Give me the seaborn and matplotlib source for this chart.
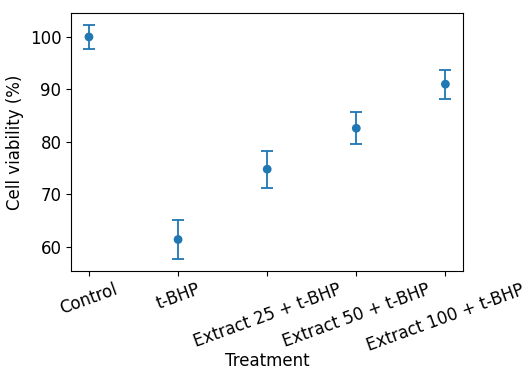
import matplotlib
matplotlib.use("Agg")
import matplotlib.pyplot as plt
import pandas as pd
import seaborn as sns

TREATMENTS = ["Control", "t-BHP", "Extract 25 + t-BHP", "Extract 50 + t-BHP", "Extract 100 + t-BHP"]
VIABILITY = [100.0, 61.4, 74.8, 82.6, 91.0]
VIABILITY_SD = [2.3, 3.7, 3.5, 3.05, 2.75]

df = pd.DataFrame({"treatment": TREATMENTS, "viability": VIABILITY, "sd": VIABILITY_SD})
df["pos"] = range(len(df))

plt.rcParams["font.size"] = 12
fig, ax = plt.subplots(figsize=(5.27, 3.7), dpi=100)
fig.subplots_adjust(left=0.135, right=0.879, top=0.965, bottom=0.268)

ax.errorbar(df["pos"], df["viability"], yerr=df["sd"], fmt="none", ecolor="#1f77b4", capsize=4.5, elinewidth=1.3, capthick=1.3)
sns.scatterplot(data=df, x="pos", y="viability", color="#1f77b4", s=40, edgecolor="none", zorder=3, ax=ax)

ax.set_xticks(df["pos"])
ax.set_xticklabels(TREATMENTS, rotation=20)
ax.set_xlabel("Treatment", labelpad=-2)
ax.set_ylabel("Cell viability (%)")
ax.set_xlim(-0.2, 4.2)
ax.set_ylim(55.43, 104.57)

plt.savefig("out.png", dpi=100)
